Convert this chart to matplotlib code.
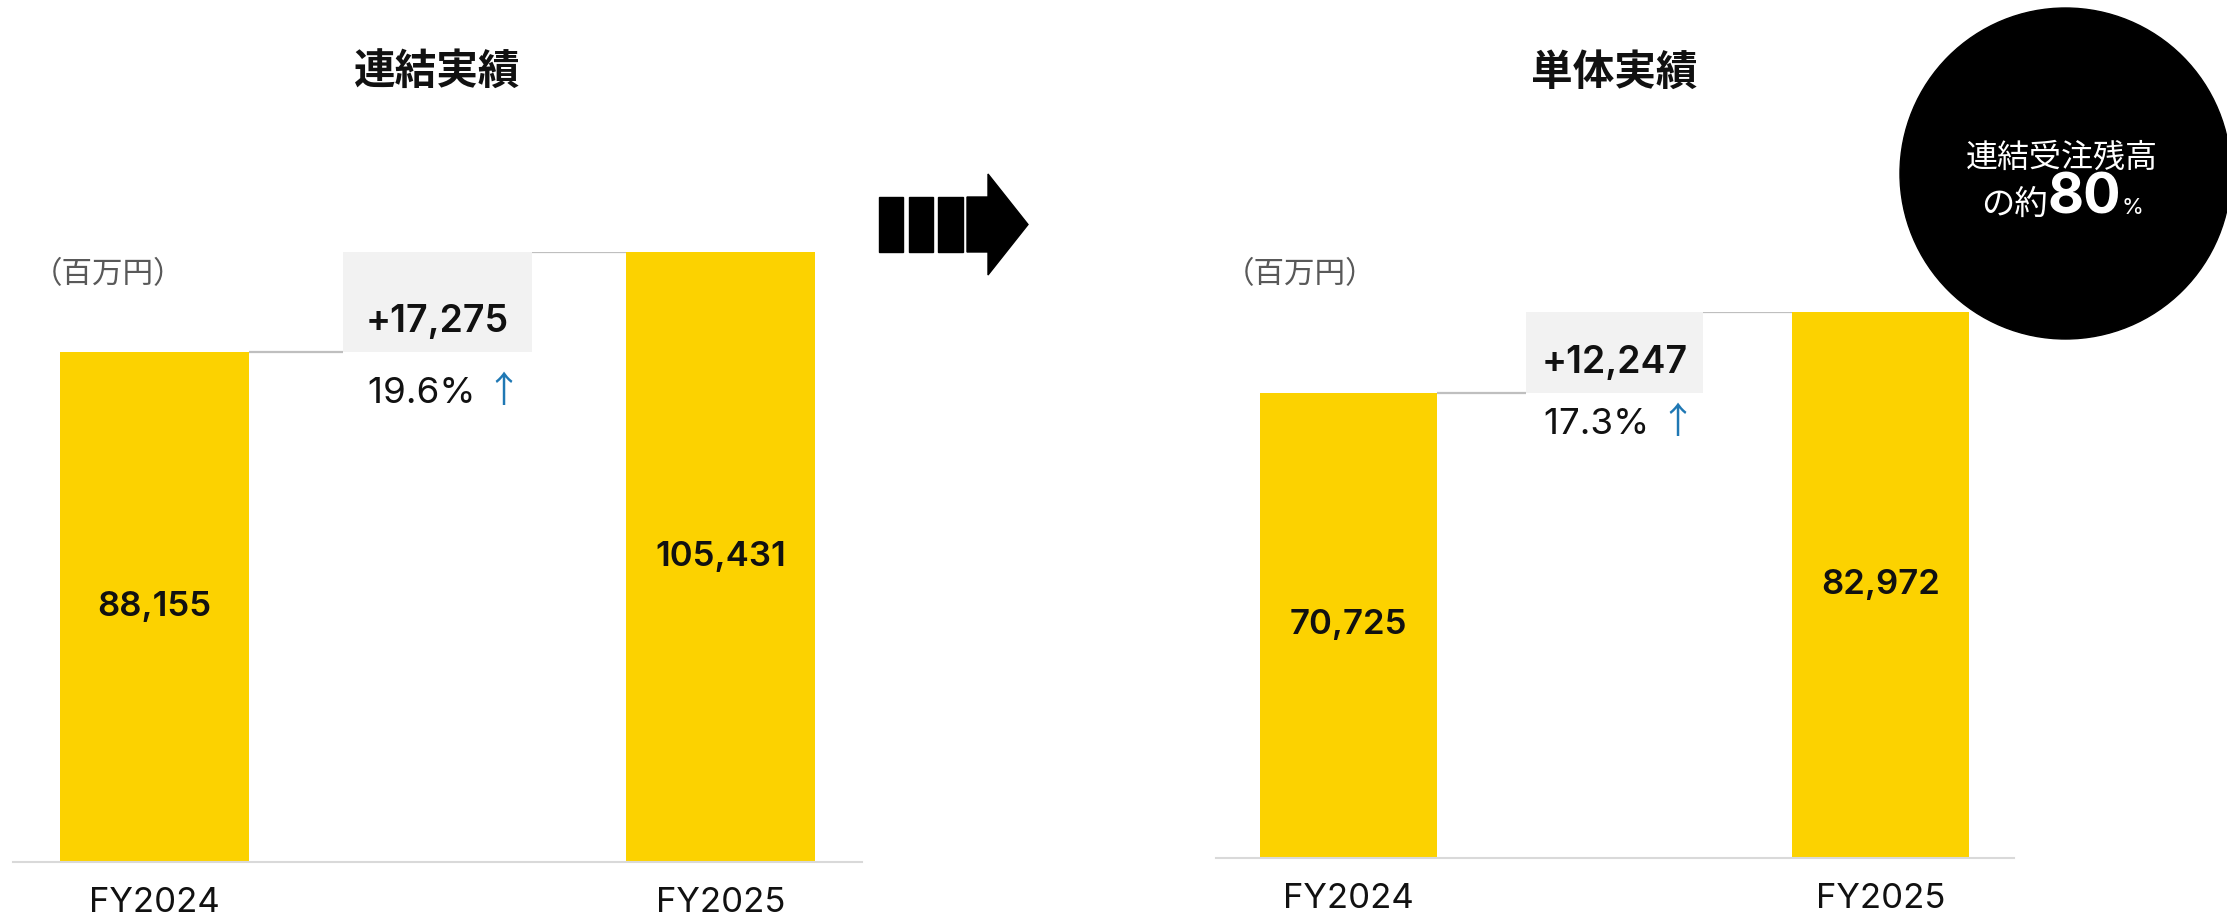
import matplotlib.pyplot as plt
from matplotlib.patches import Circle, Rectangle, Polygon

plt.rcParams['font.family'] = ['Noto Sans CJK JP', 'DejaVu Sans']

W, H = 2227, 916

# data
years = ['FY2024', 'FY2025']
titles = ['連結実績', '単体実績']
consolidated = [88155, 105431]
standalone = [70725, 82972]
increase = ['+17,275', '+12,247']
growth = ['19.6%', '17.3%']
unit_label = '（百万円）'
note_line1 = '連結受注残高'
note_line2 = ['の約', '80', '%']

YELLOW = '#FCD200'
BOX = '#F2F2F2'
LINE = '#BFBFBF'
BLUE = '#1F78B4'
LATIN = ['Inter', 'Noto Sans CJK JP']

fig = plt.figure(figsize=(W / 100, H / 100), dpi=100)


def px_axes(left, top, right, bottom):
    return fig.add_axes([left / W, 1 - bottom / H, (right - left) / W, (bottom - top) / H])


# pixel frame of each panel: left, top (=taller bar), right, baseline
panels = [
    dict(title=titles[0], vals=consolidated, inc=increase[0], pct=growth[0],
         frame=(13, 252, 862, 862), bar_w=0.668, pct_drop=51, unit_x=32),
    dict(title=titles[1], vals=standalone, inc=increase[1], pct=growth[1],
         frame=(1215.5, 312, 2013.5, 858), bar_w=0.665, pct_drop=41, unit_x=1224),
]

for p in panels:
    v1, v2 = p['vals']
    w = p['bar_w']
    l, t, r, b = p['frame']
    ax = px_axes(l, t, r, b)
    ymax = max(v1, v2)
    per_px = ymax / (b - t)  # data units per pixel
    ax.set_xlim(-0.5, 2.5)
    ax.set_ylim(0, ymax)
    ax.bar([0, 2], [v1, v2], width=w, color=YELLOW, zorder=2)
    ax.bar(1, v2 - v1, bottom=v1, width=w, color=BOX, zorder=1)
    ax.hlines(v1, w / 2, 1 - w / 2, color=LINE, lw=1.6, zorder=1)
    ax.hlines(v2, 1 + w / 2, 2 - w / 2, color=LINE, lw=1.6, zorder=1)

    for x, v, yr in zip([0, 2], [v1, v2], years):
        ax.text(x, v / 2, f'{v:,}', ha='center', va='center', fontsize=25,
                fontweight='semibold', family=LATIN, color='#111111', zorder=3)
        ax.text(x, -50 * per_px, yr, ha='center', va='baseline', fontsize=25,
                family=LATIN, color='#111111', clip_on=False)

    ax.text(1, v1 + 20 * per_px, p['inc'], ha='center', va='baseline', fontsize=27,
            fontweight='semibold', family=LATIN, color='#111111')
    tp = ax.text(1.17, v1 - p['pct_drop'] * per_px, p['pct'] + ' ', ha='right',
                 va='baseline', fontsize=26.5, family=LATIN, color='#111111', clip_on=False)
    ax.annotate('↑', xy=(1, 0), xycoords=tp, ha='left', va='bottom', fontsize=26,
                color=BLUE)

    for s in ['top', 'left', 'right']:
        ax.spines[s].set_visible(False)
    ax.spines['bottom'].set_color('#D9D9D9')
    ax.spines['bottom'].set_linewidth(1.5)
    ax.set_xticks([])
    ax.set_yticks([])
    ax.patch.set_alpha(0)

    fig.text((l + r) / 2 / W, 1 - 73 / H, p['title'], ha='center', va='center',
             fontsize=30, fontweight='bold', color='#111111')
    fig.text(p['unit_x'] / W, 1 - 275 / H, unit_label, ha='left', va='center',
             fontsize=22, color='#595959')

# overlay in pixel coordinates for the arrow and the round note
ov = fig.add_axes([0, 0, 1, 1], zorder=5)
ov.set_xlim(0, W)
ov.set_ylim(H, 0)
ov.axis('off')

for x0, x1 in [(879, 903), (909, 933), (938, 963)]:
    ov.add_patch(Rectangle((x0, 197), x1 - x0, 55, color='black'))
ov.add_patch(Polygon([(967, 197), (988, 197), (988, 174), (1028, 224.5), (988, 275),
                      (988, 252), (967, 252)], closed=True, color='black'))

ov.add_patch(Circle((2065.5, 173.5), 165.5, color='black'))
ov.text(2062, 158, note_line1, ha='center', va='center', fontsize=23, color='white')

r = fig.canvas.get_renderer()
sizes = [24, 40, 16]
weights = ['normal', 'bold', 'normal']
fams = [None, LATIN, LATIN]
parts = []
for s, fs, fw, fm in zip(note_line2, sizes, weights, fams):
    kw = dict(family=fm) if fm else {}
    parts.append(ov.text(0, 214, s, ha='left', va='baseline', fontsize=fs,
                         fontweight=fw, color='white', **kw))
fig.canvas.draw()
widths = [tt.get_window_extent(r).width for tt in parts]
x = 2062 - sum(widths) / 2
for tt, wd in zip(parts, widths):
    tt.set_x(x)
    x += wd

fig.savefig('out.png', dpi=100)
